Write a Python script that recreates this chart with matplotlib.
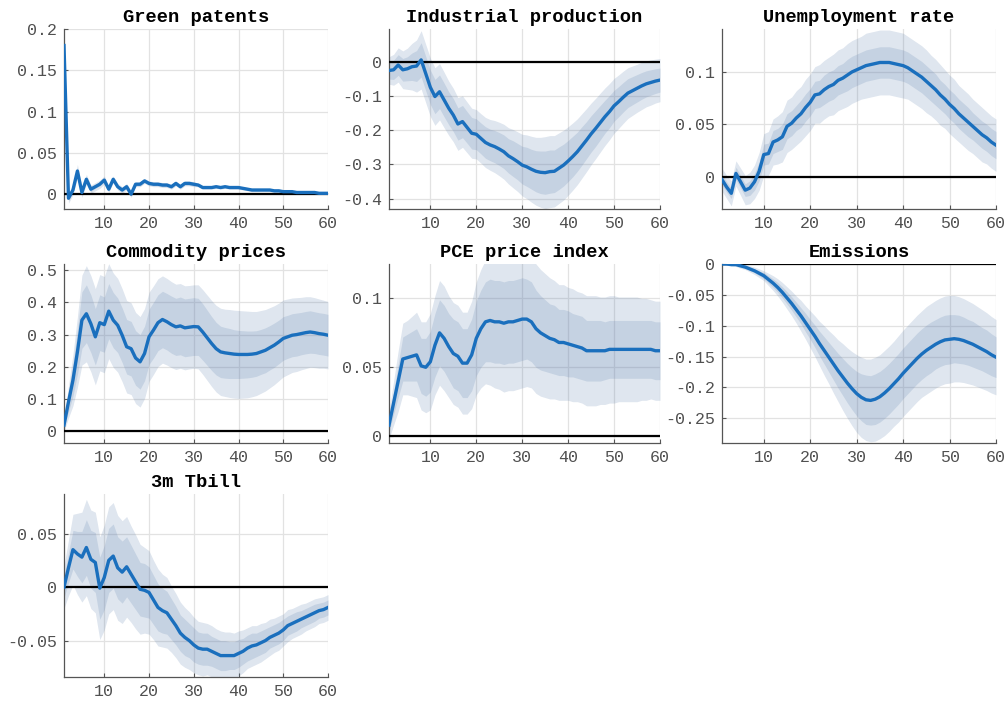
import numpy as np
import matplotlib
matplotlib.use('Agg')
import matplotlib.pyplot as plt

# 【下準備】フォント（MATLAB風の等幅）
plt.rcParams['font.family'] = ['Liberation Mono', 'DejaVu Sans Mono']
plt.rcParams['axes.unicode_minus'] = False

# 横軸（ホライズン 1..60）
horizon = list(range(1, 61))

# ---- データ：中央値と帯の半幅（内側 68%、外側 90%） ----
green_irf = [0.180, -0.005, 0.005, 0.028, 0.002, 0.018, 0.006, 0.009, 0.012, 0.017,
             0.006, 0.018, 0.009, 0.005, 0.009, 0.000, 0.012, 0.012, 0.016, 0.013,
             0.012, 0.012, 0.011, 0.011, 0.009, 0.013, 0.009, 0.013, 0.013, 0.012,
             0.011, 0.008, 0.008, 0.008, 0.009, 0.008, 0.009, 0.008, 0.008, 0.008,
             0.007, 0.006, 0.005, 0.005, 0.005, 0.005, 0.005, 0.004, 0.004, 0.003,
             0.003, 0.003, 0.002, 0.002, 0.002, 0.002, 0.002, 0.001, 0.001, 0.001]
green_in = [0.001, 0.003, 0.003, 0.004, 0.003, 0.003, 0.003, 0.002, 0.002, 0.002,
            0.002, 0.002, 0.002, 0.002, 0.002, 0.002, 0.002, 0.002, 0.002, 0.002,
            0.002, 0.002, 0.002, 0.002, 0.002, 0.002, 0.002, 0.002, 0.002, 0.002,
            0.001, 0.001, 0.001, 0.001, 0.001, 0.001, 0.001, 0.001, 0.001, 0.001,
            0.001, 0.001, 0.001, 0.001, 0.001, 0.001, 0.001, 0.001, 0.001, 0.001,
            0.001, 0.001, 0.001, 0.001, 0.001, 0.001, 0.001, 0.001, 0.001, 0.001]
green_out = [0.002, 0.006, 0.006, 0.008, 0.006, 0.006, 0.005, 0.005, 0.005, 0.005,
             0.004, 0.004, 0.004, 0.004, 0.004, 0.004, 0.003, 0.003, 0.003, 0.003,
             0.003, 0.003, 0.003, 0.003, 0.003, 0.003, 0.003, 0.003, 0.003, 0.003,
             0.002, 0.002, 0.002, 0.002, 0.002, 0.002, 0.002, 0.002, 0.002, 0.002,
             0.002, 0.002, 0.002, 0.002, 0.002, 0.002, 0.002, 0.002, 0.002, 0.002,
             0.001, 0.001, 0.001, 0.001, 0.001, 0.001, 0.001, 0.001, 0.001, 0.001]

ip_irf = [-0.026, -0.024, -0.010, -0.024, -0.021, -0.015, -0.013, 0.005, -0.035, -0.075,
          -0.102, -0.088, -0.112, -0.136, -0.156, -0.182, -0.175, -0.192, -0.209, -0.212,
          -0.224, -0.236, -0.243, -0.248, -0.255, -0.263, -0.275, -0.283, -0.292, -0.302,
          -0.307, -0.314, -0.320, -0.323, -0.324, -0.321, -0.320, -0.311, -0.302, -0.290,
          -0.277, -0.263, -0.246, -0.229, -0.211, -0.195, -0.178, -0.161, -0.146, -0.129,
          -0.117, -0.104, -0.092, -0.085, -0.078, -0.071, -0.065, -0.061, -0.057, -0.054]
ip_in = [0.025, 0.028, 0.030, 0.033, 0.035, 0.040, 0.045, 0.050, 0.050, 0.050,
         0.050, 0.049, 0.049, 0.048, 0.048, 0.047, 0.047, 0.046, 0.046, 0.045,
         0.045, 0.046, 0.046, 0.047, 0.048, 0.049, 0.050, 0.052, 0.053, 0.055,
         0.057, 0.058, 0.060, 0.062, 0.063, 0.063, 0.062, 0.062, 0.061, 0.060,
         0.059, 0.057, 0.056, 0.054, 0.053, 0.052, 0.050, 0.048, 0.047, 0.045,
         0.044, 0.043, 0.042, 0.041, 0.040, 0.039, 0.038, 0.037, 0.036, 0.035]
ip_out = [0.040, 0.045, 0.050, 0.055, 0.060, 0.068, 0.076, 0.085, 0.085, 0.085,
          0.084, 0.082, 0.081, 0.079, 0.078, 0.077, 0.075, 0.074, 0.073, 0.072,
          0.072, 0.073, 0.074, 0.076, 0.078, 0.080, 0.082, 0.085, 0.087, 0.090,
          0.093, 0.096, 0.099, 0.102, 0.105, 0.105, 0.104, 0.103, 0.102, 0.100,
          0.098, 0.096, 0.094, 0.092, 0.090, 0.088, 0.086, 0.084, 0.082, 0.080,
          0.078, 0.076, 0.074, 0.072, 0.070, 0.069, 0.067, 0.066, 0.064, 0.063]

ur_irf = [-0.003, -0.010, -0.016, 0.003, -0.005, -0.013, -0.011, -0.005, 0.005, 0.021,
          0.022, 0.033, 0.035, 0.038, 0.048, 0.051, 0.056, 0.060, 0.066, 0.071,
          0.078, 0.079, 0.083, 0.086, 0.088, 0.092, 0.094, 0.097, 0.100, 0.102,
          0.104, 0.106, 0.107, 0.108, 0.109, 0.109, 0.109, 0.108, 0.107, 0.106,
          0.104, 0.101, 0.098, 0.095, 0.091, 0.087, 0.083, 0.078, 0.074, 0.069,
          0.065, 0.060, 0.056, 0.052, 0.048, 0.044, 0.040, 0.037, 0.033, 0.030]
ur_in = [0.005, 0.005, 0.005, 0.006, 0.006, 0.006, 0.007, 0.008, 0.009, 0.010,
         0.010, 0.011, 0.011, 0.012, 0.012, 0.012, 0.012, 0.013, 0.013, 0.013,
         0.013, 0.013, 0.014, 0.014, 0.014, 0.014, 0.014, 0.015, 0.015, 0.015,
         0.015, 0.015, 0.015, 0.015, 0.015, 0.015, 0.015, 0.015, 0.015, 0.015,
         0.015, 0.015, 0.015, 0.015, 0.015, 0.015, 0.015, 0.014, 0.014, 0.014,
         0.014, 0.014, 0.014, 0.014, 0.013, 0.013, 0.013, 0.013, 0.013, 0.013]
ur_out = [0.011, 0.011, 0.012, 0.012, 0.013, 0.014, 0.015, 0.016, 0.018, 0.020,
          0.021, 0.022, 0.023, 0.024, 0.025, 0.025, 0.026, 0.026, 0.027, 0.027,
          0.027, 0.028, 0.028, 0.028, 0.029, 0.029, 0.029, 0.030, 0.030, 0.030,
          0.030, 0.031, 0.031, 0.031, 0.031, 0.031, 0.031, 0.031, 0.031, 0.031,
          0.030, 0.030, 0.030, 0.030, 0.030, 0.029, 0.029, 0.029, 0.028, 0.028,
          0.028, 0.027, 0.027, 0.027, 0.026, 0.026, 0.026, 0.025, 0.025, 0.025]

com_irf = [0.018, 0.090, 0.158, 0.246, 0.345, 0.365, 0.334, 0.293, 0.337, 0.331,
           0.373, 0.345, 0.329, 0.298, 0.262, 0.256, 0.227, 0.215, 0.241, 0.293,
           0.314, 0.337, 0.347, 0.340, 0.331, 0.324, 0.327, 0.321, 0.323, 0.325,
           0.324, 0.308, 0.290, 0.272, 0.256, 0.246, 0.243, 0.241, 0.239, 0.238,
           0.238, 0.238, 0.239, 0.241, 0.246, 0.251, 0.259, 0.267, 0.277, 0.288,
           0.293, 0.298, 0.300, 0.303, 0.306, 0.308, 0.306, 0.303, 0.301, 0.298]
com_in = [0.010, 0.030, 0.050, 0.070, 0.088, 0.090, 0.090, 0.088, 0.087, 0.086,
          0.086, 0.086, 0.085, 0.085, 0.085, 0.085, 0.085, 0.085, 0.085, 0.086,
          0.087, 0.087, 0.088, 0.088, 0.089, 0.089, 0.090, 0.090, 0.090, 0.090,
          0.089, 0.088, 0.086, 0.084, 0.082, 0.080, 0.079, 0.078, 0.076, 0.075,
          0.074, 0.073, 0.072, 0.071, 0.070, 0.070, 0.069, 0.069, 0.068, 0.068,
          0.067, 0.067, 0.067, 0.066, 0.066, 0.066, 0.065, 0.065, 0.065, 0.065]
com_out = [0.020, 0.050, 0.080, 0.110, 0.140, 0.150, 0.150, 0.150, 0.150, 0.150,
           0.148, 0.147, 0.146, 0.145, 0.144, 0.143, 0.142, 0.141, 0.140, 0.139,
           0.138, 0.137, 0.136, 0.135, 0.134, 0.133, 0.132, 0.131, 0.130, 0.130,
           0.131, 0.132, 0.133, 0.134, 0.135, 0.136, 0.136, 0.137, 0.137, 0.137,
           0.136, 0.135, 0.133, 0.131, 0.129, 0.127, 0.125, 0.123, 0.121, 0.120,
           0.118, 0.116, 0.115, 0.113, 0.112, 0.110, 0.109, 0.108, 0.106, 0.105]

pce_irf = [0.008, 0.024, 0.040, 0.056, 0.057, 0.058, 0.059, 0.051, 0.050, 0.054,
           0.066, 0.075, 0.071, 0.065, 0.060, 0.058, 0.053, 0.053, 0.059, 0.071,
           0.078, 0.083, 0.084, 0.083, 0.083, 0.082, 0.083, 0.083, 0.084, 0.085,
           0.085, 0.083, 0.078, 0.075, 0.073, 0.071, 0.070, 0.068, 0.068, 0.067,
           0.066, 0.065, 0.064, 0.062, 0.062, 0.062, 0.062, 0.062, 0.063, 0.063,
           0.063, 0.063, 0.063, 0.063, 0.063, 0.063, 0.063, 0.063, 0.062, 0.062]
pce_in = [0.005, 0.008, 0.012, 0.016, 0.017, 0.018, 0.019, 0.020, 0.021, 0.022,
          0.023, 0.024, 0.024, 0.024, 0.025, 0.025, 0.025, 0.025, 0.026, 0.027,
          0.028, 0.029, 0.030, 0.030, 0.030, 0.030, 0.030, 0.030, 0.030, 0.030,
          0.029, 0.029, 0.028, 0.027, 0.026, 0.025, 0.025, 0.024, 0.024, 0.024,
          0.023, 0.023, 0.023, 0.022, 0.022, 0.022, 0.022, 0.021, 0.021, 0.021,
          0.021, 0.021, 0.021, 0.021, 0.021, 0.021, 0.021, 0.021, 0.021, 0.021]
pce_out = [0.010, 0.016, 0.022, 0.026, 0.027, 0.029, 0.031, 0.032, 0.033, 0.035,
           0.036, 0.038, 0.038, 0.037, 0.037, 0.037, 0.037, 0.037, 0.039, 0.041,
           0.043, 0.045, 0.047, 0.048, 0.049, 0.050, 0.050, 0.050, 0.050, 0.050,
           0.049, 0.048, 0.047, 0.046, 0.045, 0.044, 0.043, 0.042, 0.042, 0.041,
           0.041, 0.040, 0.040, 0.040, 0.040, 0.040, 0.039, 0.039, 0.039, 0.039,
           0.038, 0.038, 0.038, 0.038, 0.038, 0.037, 0.037, 0.036, 0.036, 0.036]

em_irf = [0.000, -0.000, -0.001, -0.001, -0.003, -0.005, -0.008, -0.011, -0.015, -0.019,
          -0.025, -0.031, -0.038, -0.046, -0.055, -0.064, -0.074, -0.084, -0.095, -0.106,
          -0.117, -0.129, -0.140, -0.151, -0.162, -0.173, -0.183, -0.193, -0.202, -0.210,
          -0.216, -0.220, -0.221, -0.219, -0.215, -0.209, -0.202, -0.194, -0.186, -0.177,
          -0.169, -0.161, -0.153, -0.146, -0.140, -0.135, -0.130, -0.126, -0.123, -0.122,
          -0.121, -0.122, -0.124, -0.127, -0.130, -0.134, -0.138, -0.142, -0.147, -0.151]
em_in = [0.001, 0.001, 0.001, 0.001, 0.002, 0.002, 0.003, 0.003, 0.004, 0.005,
         0.006, 0.007, 0.008, 0.009, 0.010, 0.011, 0.012, 0.013, 0.015, 0.016,
         0.018, 0.020, 0.022, 0.024, 0.026, 0.028, 0.030, 0.032, 0.034, 0.036,
         0.038, 0.040, 0.040, 0.041, 0.041, 0.041, 0.041, 0.041, 0.041, 0.041,
         0.041, 0.041, 0.041, 0.041, 0.041, 0.041, 0.040, 0.040, 0.040, 0.040,
         0.039, 0.039, 0.038, 0.037, 0.037, 0.036, 0.035, 0.035, 0.034, 0.033]
em_out = [0.001, 0.002, 0.002, 0.003, 0.004, 0.004, 0.005, 0.006, 0.007, 0.008,
          0.010, 0.012, 0.014, 0.016, 0.018, 0.020, 0.022, 0.025, 0.027, 0.030,
          0.033, 0.036, 0.040, 0.043, 0.047, 0.050, 0.054, 0.057, 0.060, 0.063,
          0.065, 0.066, 0.067, 0.068, 0.068, 0.069, 0.069, 0.069, 0.070, 0.070,
          0.070, 0.070, 0.070, 0.070, 0.071, 0.071, 0.071, 0.071, 0.071, 0.071,
          0.070, 0.069, 0.068, 0.067, 0.066, 0.065, 0.064, 0.063, 0.062, 0.061]

tb_irf = [0.000, 0.018, 0.035, 0.031, 0.028, 0.037, 0.026, 0.023, -0.001, 0.009,
          0.025, 0.029, 0.018, 0.014, 0.019, 0.012, 0.005, -0.002, -0.003, -0.005,
          -0.012, -0.019, -0.022, -0.024, -0.030, -0.036, -0.043, -0.047, -0.050, -0.054,
          -0.057, -0.058, -0.058, -0.060, -0.062, -0.064, -0.064, -0.064, -0.064, -0.062,
          -0.060, -0.057, -0.055, -0.054, -0.052, -0.050, -0.047, -0.045, -0.043, -0.040,
          -0.036, -0.034, -0.032, -0.030, -0.028, -0.026, -0.024, -0.022, -0.021, -0.019]
tb_in = [0.010, 0.014, 0.018, 0.021, 0.024, 0.026, 0.027, 0.028, 0.029, 0.030,
         0.030, 0.030, 0.029, 0.029, 0.028, 0.027, 0.026, 0.025, 0.025, 0.024,
         0.023, 0.022, 0.021, 0.020, 0.019, 0.018, 0.017, 0.017, 0.016, 0.016,
         0.015, 0.015, 0.015, 0.014, 0.014, 0.014, 0.014, 0.013, 0.013, 0.013,
         0.012, 0.012, 0.012, 0.011, 0.011, 0.011, 0.010, 0.010, 0.010, 0.010,
         0.009, 0.009, 0.009, 0.008, 0.008, 0.008, 0.008, 0.007, 0.007, 0.007]
tb_out = [0.020, 0.026, 0.033, 0.038, 0.042, 0.045, 0.046, 0.047, 0.048, 0.049,
          0.050, 0.050, 0.049, 0.048, 0.047, 0.045, 0.044, 0.042, 0.040, 0.039,
          0.037, 0.036, 0.034, 0.033, 0.031, 0.030, 0.029, 0.028, 0.027, 0.026,
          0.025, 0.025, 0.024, 0.024, 0.023, 0.023, 0.022, 0.022, 0.021, 0.021,
          0.020, 0.019, 0.019, 0.018, 0.018, 0.017, 0.017, 0.016, 0.016, 0.015,
          0.015, 0.014, 0.014, 0.014, 0.013, 0.013, 0.013, 0.012, 0.012, 0.012]

titles = ['Green patents', 'Industrial production', 'Unemployment rate',
          'Commodity prices', 'PCE price index', 'Emissions', '3m Tbill']
irfs = [green_irf, ip_irf, ur_irf, com_irf, pce_irf, em_irf, tb_irf]
inner = [green_in, ip_in, ur_in, com_in, pce_in, em_in, tb_in]
outer = [green_out, ip_out, ur_out, com_out, pce_out, em_out, tb_out]

# 軸ごとの目盛と表示範囲
yticks = [[0, 0.05, 0.1, 0.15, 0.2],
          [-0.4, -0.3, -0.2, -0.1, 0],
          [0, 0.05, 0.1],
          [0, 0.1, 0.2, 0.3, 0.4, 0.5],
          [0, 0.05, 0.1],
          [-0.25, -0.2, -0.15, -0.1, -0.05, 0],
          [-0.05, 0, 0.05]]
ylims = [(-0.018, 0.2), (-0.43, 0.095), (-0.031, 0.141), (-0.038, 0.52),
         (-0.005, 0.125), (-0.29, 0.0), (-0.084, 0.087)]

# 配置（ピクセル：左, 右, 上, 下）
W, H = 1008, 704
cols = [(64, 328), (389, 660), (722, 996)]
rows = [(29, 209), (264, 443), (494, 677)]

line_col = '#1a6fbd'
band_col = '#5f82af'

fig = plt.figure(figsize=(W / 100, H / 100), dpi=100)

for i in range(len(titles)):
    x0, x1 = cols[i % 3]
    y0, y1 = rows[i // 3]
    ax = fig.add_axes([x0 / W, 1 - y1 / H, (x1 - x0) / W, (y1 - y0) / H])

    x = np.array(horizon)
    m = np.array(irfs[i])
    w_in = np.array(inner[i])
    w_out = np.array(outer[i])

    ax.fill_between(x, m - w_out, m + w_out, color=band_col, alpha=0.2, lw=0)
    ax.fill_between(x, m - w_in, m + w_in, color=band_col, alpha=0.2, lw=0)
    ax.axhline(0, color='black', lw=1.6, zorder=3)
    ax.plot(x, m, color=line_col, lw=2.4, zorder=4)

    ax.set_xlim(1, 60)
    ax.set_ylim(*ylims[i])
    ax.set_xticks([10, 20, 30, 40, 50, 60])
    ax.set_yticks(yticks[i])
    ax.set_yticklabels(['%g' % v for v in yticks[i]])

    ax.set_axisbelow(True)
    ax.grid(True, color='#e2e2e2', lw=0.9)
    for s in ['top', 'right']:
        ax.spines[s].set_visible(False)
    for s in ['left', 'bottom']:
        ax.spines[s].set_color('#555555')
        ax.spines[s].set_linewidth(0.9)
    ax.tick_params(direction='in', length=3, width=0.8, color='#555555',
                   labelcolor='#505050', labelsize=12, pad=5)

    ax.set_title(titles[i], fontsize=13.5, fontweight='bold', pad=5)

fig.savefig('out.png', dpi=100)
